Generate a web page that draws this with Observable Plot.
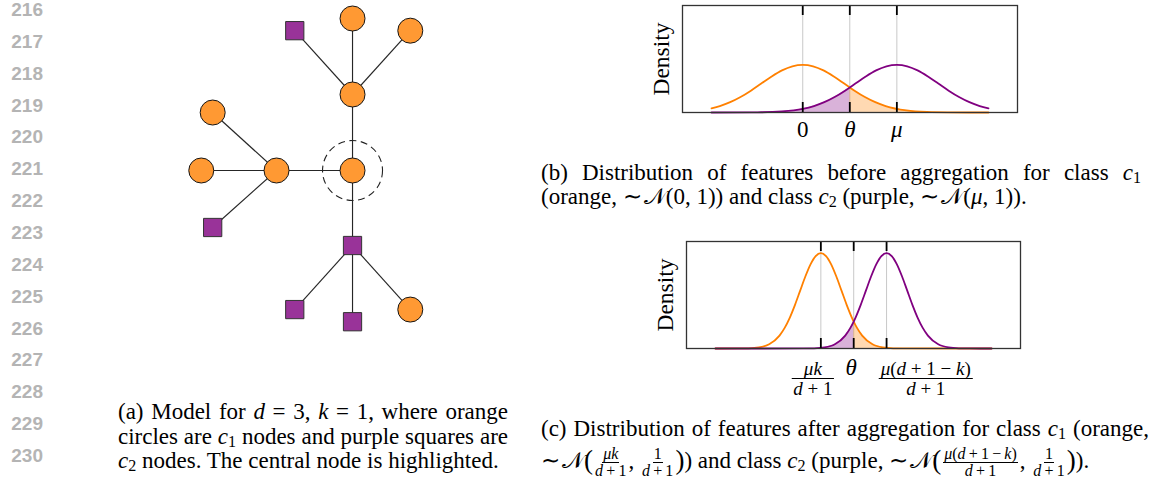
<!DOCTYPE html>
<html>
<head>
<meta charset="utf-8">
<script src="https://cdn.jsdelivr.net/npm/d3@7"></script>
<script src="https://cdn.jsdelivr.net/npm/@observablehq/plot@0.6"></script>
<style>
  html, body { margin: 0; padding: 0; background: #fff; }
  #root { position: relative; width: 1157px; height: 480px; overflow: hidden; background: #fff; }
  .ln { position: absolute; left: 0; width: 43px; text-align: right; font-family: "Liberation Sans", Arial, sans-serif;
        font-weight: bold; font-size: 19px; line-height: 19px; color: #b4b4b4; }
  .cap { position: absolute; font-family: "Liberation Serif", "Times New Roman", serif; font-size: 23px;
         line-height: 23px; color: #000; }
  .cap.just { text-align: justify; text-align-last: justify; white-space: normal; }
  .cap.last { white-space: nowrap; }
  .cap i { font-style: italic; }
  .cap sub { font-size: 0.7em; vertical-align: -0.2em; line-height: 0; }
  .fr { display: inline-flex; flex-direction: column; align-items: center; vertical-align: middle;
        font-size: 16px; line-height: 14px; margin: -10px 2px; }
  .fr .n { border-bottom: 0.9px solid #000; padding: 0 1px 1px 1px; }
  .fr .d { padding-top: 1px; }
  .big { font-size: 27px; line-height: 0; vertical-align: -1px; }
  .sim { margin-right: 2px; }
</style>
</head>
<body>
<div id="root"></div>
<script>
// ---------------- data ----------------
const lineNumbers = [216, 217, 218, 219, 220, 221, 222, 223, 224, 225, 226, 227, 228, 229, 230, 231];

// (a) graph model: node layout positions, classes and edges
const nodeX = [0, 0, 0, 0.76, -0.76, -1, -1.99, -1.84, -1.84, 0, -0.76, 0, 0.76];
const nodeY = [0, 1, 2, 1.84, 1.84, 0, 0, 0.763, -0.75, -0.987, -1.83, -1.99, -1.83];
const nodeClass = ["c1", "c1", "c1", "c1", "c2", "c1", "c1", "c1", "c2", "c2", "c2", "c2", "c1"];
const edges = [[0, 1], [1, 2], [1, 3], [1, 4], [0, 5], [5, 6], [5, 7], [5, 8], [0, 9], [9, 10], [9, 11], [9, 12]];
const highlighted = 0;

// shared density axis
const xDomain = [-2.9, 5.18];
const yMax = 0.895;

// (b) before aggregation
const bTicks = [0, 1.135, 2.27];           // 0, theta, mu
const bTickLabels = ["0", "θ", "μ"];
const bOrangeX = [-2.2, -2, -1.75, -1.5, -1.25, -1, -0.75, -0.5, -0.25, 0, 0.25, 0.5, 0.75, 1, 1.135, 1.25, 1.5, 1.75, 2, 2.5, 3, 3.5, 4, 4.48];
const bOrangeY = [0.0355, 0.0540, 0.0863, 0.1295, 0.1826, 0.2420, 0.3011, 0.3521, 0.3867, 0.3989, 0.3867, 0.3521, 0.3011, 0.2420, 0.2095, 0.1826, 0.1295, 0.0863, 0.0540, 0.0175, 0.0044, 0.0009, 0.0001, 0.0000];
const bPurpleX = [-2.2, -1, -0.5, 0, 0.27, 0.52, 0.77, 1.02, 1.135, 1.27, 1.52, 1.77, 2.02, 2.27, 2.52, 2.77, 3.02, 3.27, 3.52, 3.77, 4.02, 4.27, 4.48];
const bPurpleY = [0.0000, 0.0019, 0.0086, 0.0303, 0.0540, 0.0863, 0.1295, 0.1826, 0.2095, 0.2420, 0.3011, 0.3521, 0.3867, 0.3989, 0.3867, 0.3521, 0.3011, 0.2420, 0.1826, 0.1295, 0.0863, 0.0540, 0.0347];

// (c) after aggregation
const cTicks = [0.35, 1.145, 1.94];        // mu k/(d+1), theta, mu(d+1-k)/(d+1)
const cOrangeX = [-2.2, -1.65, -1.4, -1.15, -0.9, -0.65, -0.525, -0.4, -0.275, -0.15, -0.025, 0.1, 0.225, 0.35, 0.475, 0.6, 0.725, 0.85, 0.975, 1.1, 1.145, 1.225, 1.35, 1.6, 1.85, 2.1, 2.35, 4.48];
const cOrangeY = [0.0000, 0.0003, 0.0017, 0.0089, 0.0350, 0.1080, 0.1726, 0.2590, 0.3653, 0.4839, 0.6022, 0.7041, 0.7734, 0.7979, 0.7734, 0.7041, 0.6022, 0.4839, 0.3653, 0.2590, 0.2254, 0.1726, 0.1080, 0.0350, 0.0089, 0.0017, 0.0003, 0.0000];
const cPurpleX = [-2.2, -0.06, 0.19, 0.44, 0.69, 0.94, 1.065, 1.145, 1.19, 1.315, 1.44, 1.565, 1.69, 1.815, 1.94, 2.065, 2.19, 2.315, 2.44, 2.565, 2.69, 2.815, 2.94, 3.19, 3.44, 3.69, 3.94, 4.48];
const cPurpleY = [0.0000, 0.0003, 0.0017, 0.0089, 0.0350, 0.1080, 0.1726, 0.2254, 0.2590, 0.3653, 0.4839, 0.6022, 0.7041, 0.7734, 0.7979, 0.7734, 0.7041, 0.6022, 0.4839, 0.3653, 0.2590, 0.1726, 0.1080, 0.0350, 0.0089, 0.0017, 0.0003, 0.0000];

// ---------------- styles ----------------
const ORANGE = "#ff8000", PURPLE = "#800080";
const NODE_ORANGE = "#ff9933", NODE_PURPLE = "#993399";
const SERIF = "Liberation Serif, Times New Roman, serif";

const root = document.getElementById("root");
function place(el, left, top) {
  el.style.position = "absolute";
  el.style.left = left + "px";
  el.style.top = top + "px";
  root.appendChild(el);
  return el;
}

// ---------------- line numbers ----------------
lineNumbers.forEach((n, i) => {
  const d = document.createElement("div");
  d.className = "ln";
  d.textContent = n;
  d.style.top = (i * 31.85) + "px";
  root.appendChild(d);
});

// ---------------- (a) graph ----------------
const nodes = nodeX.map((x, i) => ({x, y: nodeY[i], cls: nodeClass[i]}));
const links = edges.map(([a, b]) => ({x1: nodeX[a], y1: nodeY[a], x2: nodeX[b], y2: nodeY[b]}));
const graph = Plot.plot({
  width: 300, height: 340, margin: 0,
  x: {domain: [-2.658, 1.289], axis: null},
  y: {domain: [-2.237, 2.237], axis: null},
  style: {background: "transparent", overflow: "visible"},
  marks: [
    Plot.link(links, {x1: "x1", y1: "y1", x2: "x2", y2: "y2", stroke: "#262626", strokeWidth: 1.15}),
    Plot.dot([nodes[highlighted]], {x: "x", y: "y", r: 30, fill: "none", stroke: "#222", strokeWidth: 1.1, strokeDasharray: "7,4.5"}),
    Plot.dot(nodes.filter(d => d.cls === "c1"), {x: "x", y: "y", r: 12.5, fill: NODE_ORANGE, stroke: "#151515", strokeWidth: 1}),
    Plot.dot(nodes.filter(d => d.cls === "c2"), {x: "x", y: "y", r: 10.3, symbol: "square", fill: NODE_PURPLE, stroke: "#333", strokeWidth: 1})
  ]
});
place(graph, 150, 0);

// ---------------- density panels ----------------
function densityPanel({width, height, mt, mb, ml, mr, ticks, ox, oy, px, py, extra}) {
  const o = ox.map((x, i) => ({x, y: oy[i]}));
  const p = px.map((x, i) => ({x, y: py[i]}));
  const theta = ticks[1];
  const tickLen = yMax * 10 / (height - mt - mb);
  return Plot.plot({
    width, height, marginTop: mt, marginBottom: mb, marginLeft: ml, marginRight: mr,
    x: {domain: xDomain, axis: null},
    y: {domain: [0, yMax], axis: null},
    style: {background: "transparent", overflow: "visible", fontFamily: SERIF},
    marks: [
      Plot.ruleX(ticks, {stroke: "#c8c8c8", strokeWidth: 1}),
      Plot.areaY(p.filter(d => d.x <= theta), {x: "x", y: "y", fill: PURPLE, fillOpacity: 0.3, curve: "monotone-x"}),
      Plot.areaY(o.filter(d => d.x >= theta), {x: "x", y: "y", fill: ORANGE, fillOpacity: 0.3, curve: "monotone-x"}),
      Plot.line(o, {x: "x", y: "y", stroke: ORANGE, strokeWidth: 1.8, curve: "monotone-x"}),
      Plot.line(p, {x: "x", y: "y", stroke: PURPLE, strokeWidth: 1.8, curve: "monotone-x"}),
      Plot.ruleX(ticks, {y1: 0, y2: tickLen, stroke: "#000", strokeWidth: 1.8}),
      Plot.ruleX(ticks, {y1: yMax - tickLen, y2: yMax, stroke: "#000", strokeWidth: 1.8}),
      Plot.frame({stroke: "#333", strokeWidth: 1.3}),
      Plot.text(["Density"], {frameAnchor: "left", textAnchor: "middle", dx: -21, rotate: -90, fontSize: 23.5, fill: "#000"}),
      ...extra
    ]
  });
}

// (b)
const plotB = densityPanel({
  width: 400, height: 150, mt: 5, mb: 38, ml: 42, mr: 23,
  ticks: bTicks, ox: bOrangeX, oy: bOrangeY, px: bPurpleX, py: bPurpleY,
  extra: [
    Plot.text(bTicks.slice(0, 1), {x: d => d, text: bTickLabels.slice(0, 1), frameAnchor: "bottom", dy: 24.5, fontSize: 23, fill: "#000"}),
    Plot.text(bTicks.slice(1), {x: d => d, text: bTickLabels.slice(1), frameAnchor: "bottom", dy: 24.5, fontSize: 23, fontStyle: "italic", fill: "#000"})
  ]
});
place(plotB, 640, 0);

// (c)
const plotC = densityPanel({
  width: 400, height: 175, mt: 16, mb: 52, ml: 46, mr: 20,
  ticks: cTicks, ox: cOrangeX, oy: cOrangeY, px: cPurpleX, py: cPurpleY,
  extra: [
    Plot.text([cTicks[1]], {x: d => d, text: ["θ"], frameAnchor: "bottom", dx: -2.5, dy: 26.5, fontSize: 23, fontStyle: "italic", fill: "#000"})
  ]
});
place(plotC, 640, 225);

// fraction tick labels for (c), positioned through the plot's x scale
const SP = "\u2005";
const fracLabels = [
  {tick: 0, dx: -7.5, num: [["μk", true]], den: [["d", true], [SP + "+" + SP + "1", false]]},
  {tick: 2, dx: 39.7, num: [["μ", true], ["(", false], ["d", true], [SP + "+" + SP + "1" + SP + "−" + SP, false], ["k", true], [")", false]],
   den: [["d", true], [SP + "+" + SP + "1", false]]}
];
const sxC = plotC.scale("x");
const gC = d3.select(plotC).append("g").attr("font-family", SERIF).attr("font-size", 19).attr("fill", "#000");
fracLabels.forEach(f => {
  const cx = sxC.apply(cTicks[f.tick]) + f.dx;
  const num = gC.append("text").attr("x", cx).attr("y", 149.5).attr("text-anchor", "middle");
  f.num.forEach(([s, it]) => num.append("tspan").attr("font-style", it ? "italic" : "normal").text(s));
  const den = gC.append("text").attr("x", cx).attr("y", 170).attr("text-anchor", "middle");
  f.den.forEach(([s, it]) => den.append("tspan").attr("font-style", it ? "italic" : "normal").text(s));
  const w = Math.max(num.node().getBBox().width, den.node().getBBox().width) + 3;
  gC.append("line").attr("x1", cx - w / 2).attr("x2", cx + w / 2).attr("y1", 153.5).attr("y2", 153.5)
    .attr("stroke", "#000").attr("stroke-width", 1);
});

// ---------------- captions ----------------
function caption(html, left, top, width) {
  const d = document.createElement("div");
  d.className = "cap " + (width ? "just" : "last");
  d.innerHTML = html;
  d.style.left = left + "px";
  d.style.top = top + "px";
  if (width) d.style.width = width + "px";
  root.appendChild(d);
}
const N = "<span class='sim'>∼</span>𝒩";
caption("(a) Model for <i>d</i> = 3, <i>k</i> = 1, where orange", 118, 399.5, 390);
caption("circles are <i>c</i><sub>1</sub> nodes and purple squares are", 118, 424.5, 390);
caption("<i>c</i><sub>2</sub> nodes. The central node is highlighted.", 118, 448.5);

caption("(b) Distribution of features before aggregation for class <i>c</i><sub>1</sub>", 541, 160.5, 600);
caption("(orange, " + N + "(0, 1)) and class <i>c</i><sub>2</sub> (purple, " + N + "(<i>μ</i>, 1)).", 541, 185);

const fr = (n, d) => `<span class="fr"><span class="n">${n}</span><span class="d">${d}</span></span>`;
const dp1 = "<i>d</i>\u2009+\u20091";
caption("(c) Distribution of features after aggregation for class <i>c</i><sub>1</sub> (orange,", 541, 416.5, 608);
caption(N + "<span class='big'>(</span>" + fr("<i>μk</i>", dp1) + ", " + fr("1", dp1) +
        "<span class='big'>)</span>) and class <i>c</i><sub>2</sub> (purple, " + N + "<span class='big'>(</span>" +
        fr("<i>μ</i>(<i>d</i>\u2009+\u20091\u2009−\u2009<i>k</i>)", dp1) + ", " + fr("1", dp1) + "<span class='big'>)</span>).", 541, 448.5);
</script>
</body>
</html>
